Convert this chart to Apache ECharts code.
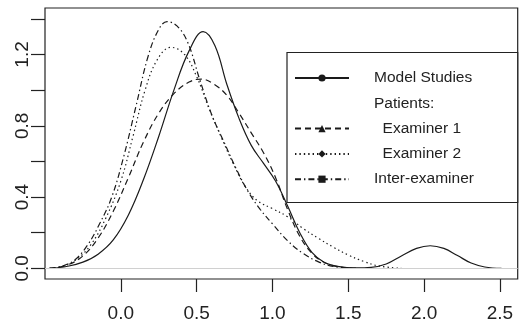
<!DOCTYPE html>
<html>
<head>
<meta charset="utf-8">
<script src="https://cdn.jsdelivr.net/npm/echarts@6/dist/echarts.min.js"></script>
<style>
  html, body { margin: 0; padding: 0; background: #fff; }
  #chart { width: 519px; height: 323px; }
</style>
</head>
<body>
<div id="chart"></div>
<script>
// Kernel density estimates of the measured differences
const seriesNames = ['Model Studies', 'Patients:', '  Examiner 1', '  Examiner 2', 'Inter-examiner'];

const modelX = [-0.47, -0.35, -0.25, -0.15, -0.05, 0.05, 0.15, 0.25, 0.35, 0.45, 0.543, 0.62, 0.70, 0.78, 0.86, 0.94, 1.02, 1.10, 1.18, 1.26, 1.34, 1.44, 1.55, 1.65, 1.75, 1.85, 1.95, 2.04, 2.13, 2.22, 2.31, 2.40, 2.51];
const modelY = [0.0, 0.012, 0.035, 0.08, 0.16, 0.30, 0.50, 0.74, 1.00, 1.22, 1.328, 1.25, 1.03, 0.84, 0.69, 0.59, 0.49, 0.35, 0.20, 0.09, 0.035, 0.01, 0.003, 0.006, 0.025, 0.07, 0.112, 0.127, 0.112, 0.072, 0.03, 0.008, 0.0];

const exam1X = [-0.47, -0.35, -0.25, -0.15, -0.05, 0.05, 0.15, 0.25, 0.35, 0.45, 0.53, 0.62, 0.70, 0.78, 0.86, 0.94, 1.02, 1.10, 1.18, 1.26, 1.34, 1.44, 1.55];
const exam1Y = [0.0, 0.02, 0.07, 0.17, 0.32, 0.51, 0.71, 0.87, 0.98, 1.045, 1.062, 1.03, 0.97, 0.87, 0.76, 0.65, 0.51, 0.33, 0.18, 0.085, 0.035, 0.008, 0.0];

const exam2X = [-0.47, -0.38, -0.30, -0.20, -0.10, 0.0, 0.08, 0.16, 0.24, 0.33, 0.42, 0.50, 0.58, 0.66, 0.74, 0.82, 0.90, 1.00, 1.10, 1.20, 1.30, 1.40, 1.50, 1.60, 1.70, 1.85];
const exam2Y = [0.0, 0.012, 0.045, 0.13, 0.28, 0.49, 0.74, 1.0, 1.17, 1.24, 1.20, 1.076, 0.90, 0.74, 0.59, 0.46, 0.38, 0.335, 0.29, 0.225, 0.17, 0.12, 0.075, 0.04, 0.014, 0.0];

const interX = [-0.47, -0.38, -0.30, -0.22, -0.14, -0.06, 0.02, 0.10, 0.18, 0.25, 0.305, 0.37, 0.44, 0.52, 0.60, 0.68, 0.76, 0.84, 0.92, 1.00, 1.10, 1.20, 1.30, 1.40, 1.55];
const interY = [0.0, 0.015, 0.05, 0.13, 0.25, 0.40, 0.63, 0.91, 1.19, 1.34, 1.384, 1.36, 1.27, 1.06, 0.86, 0.71, 0.56, 0.43, 0.33, 0.25, 0.155, 0.085, 0.038, 0.011, 0.0];

const xTicks = [0, 0.5, 1.0, 1.5, 2.0, 2.5];
const yTicks = [0, 0.2, 0.4, 0.6, 0.8, 1.0, 1.2, 1.4];
const yLabels = [0, 0.4, 0.8, 1.2];

const zip = (xs, ys) => xs.map((x, i) => [x, ys[i]]);

const ink = '#1a1a1a';
const fontFamily = '"Liberation Sans", Arial, Helvetica, sans-serif';

function curve(name, xs, ys, type, symbol) {
  return {
    name: name,
    type: 'line',
    data: zip(xs, ys),
    smooth: 0.4,
    symbol: symbol,
    showSymbol: false,
    silent: true,
    lineStyle: { color: ink, width: 1.2, type: type, cap: 'butt' },
    itemStyle: { color: ink },
    z: 3
  };
}

const chart = echarts.init(document.getElementById('chart'), null, { renderer: 'canvas' });

chart.setOption({
  animation: false,
  backgroundColor: '#ffffff',
  grid: {
    left: 45, top: 8, right: 1.3, bottom: 43.7,
    show: true, borderColor: '#222', borderWidth: 1.2, backgroundColor: 'transparent'
  },
  xAxis: {
    type: 'value',
    min: -0.5, max: 2.617,
    axisLine: { show: false, onZero: false },
    splitLine: { show: false },
    axisTick: { show: true, customValues: xTicks, length: 13, inside: false, lineStyle: { color: '#222', width: 1.2 } },
    axisLabel: {
      customValues: xTicks, margin: 25, color: '#222', fontSize: 19, fontFamily: fontFamily,
      formatter: v => v.toFixed(1)
    }
  },
  yAxis: {
    type: 'value',
    min: -0.0594, max: 1.4605,
    axisLine: { show: false, onZero: false },
    splitLine: { show: false },
    axisTick: { show: true, customValues: yTicks, length: 14, inside: false, lineStyle: { color: '#222', width: 1.2 } },
    axisLabel: {
      customValues: yLabels, margin: 13, rotate: 90, color: '#222', fontSize: 19, fontFamily: fontFamily,
      formatter: v => v.toFixed(1)
    }
  },
  legend: {
    orient: 'vertical',
    left: 294, top: 70,
    itemWidth: 54, itemHeight: 9, itemGap: 9.3,
    padding: 0,
    selectedMode: false,
    textStyle: { color: '#222', fontSize: 15.5, fontFamily: fontFamily, lineHeight: 16, padding: [0, 0, 0, 20] },
    data: [
      { name: seriesNames[0] },
      { name: seriesNames[1], itemStyle: { opacity: 0 }, lineStyle: { opacity: 0 } },
      { name: seriesNames[2] },
      { name: seriesNames[3] },
      { name: seriesNames[4] }
    ]
  },
  graphic: [{
    type: 'rect',
    shape: { x: 287, y: 52.5, width: 230.7, height: 150 },
    style: { fill: '#fff', stroke: '#222', lineWidth: 1.2 },
    z: 0, zlevel: 0
  }],
  series: [
    Object.assign(curve(seriesNames[0], modelX, modelY, 'solid', 'circle'), {
      markLine: {
        silent: true, symbol: 'none', label: { show: false },
        lineStyle: { color: '#d0d0d0', width: 1, type: 'solid' },
        data: [{ yAxis: 0 }]
      }
    }),
    { name: seriesNames[1], type: 'line', data: [], symbol: 'none', lineStyle: { opacity: 0 } },
    curve(seriesNames[2], exam1X, exam1Y, [6, 4], 'triangle'),
    curve(seriesNames[3], exam2X, exam2Y, [1.4, 3], 'diamond'),
    curve(seriesNames[4], interX, interY, [6, 3, 1.4, 3], 'rect')
  ]
});
</script>
</body>
</html>
